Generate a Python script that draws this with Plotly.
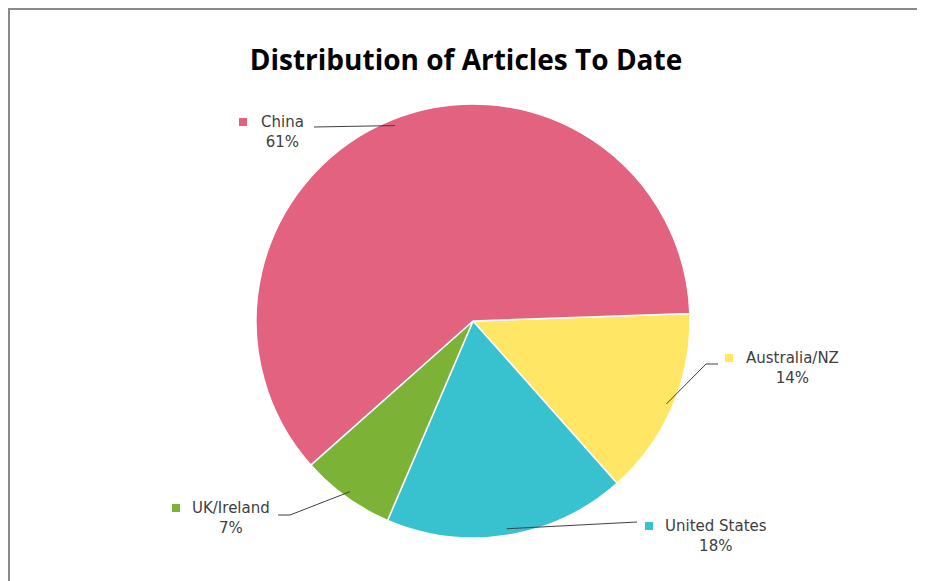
import math
import plotly.graph_objects as go

# the page body has an 8px margin, so the figure is drawn at (8, 8)
OFF = 8
W, H = 925 - OFF, 581 - OFF

# data
regions = ['Australia/NZ', 'United States', 'UK/Ireland', 'China']
articles = [14, 18, 7, 61]
colors = ['#FFE765', '#38C1CF', '#7CB236', '#E3627F']

# pie geometry (page pixels)
cx, cy, r = 473, 321, 217
rotation = 88

# label placement (page pixel centre of the two-line label) and leader start/elbow
label_pos = {
    'Australia/NZ': (792, 368),
    'United States': (716, 536),
    'UK/Ireland': (231, 518),
    'China': (282, 132),
}
leader = {
    'Australia/NZ': [(718, 364), (706, 364)],
    'United States': [(637, 522), (637, 522)],
    'UK/Ireland': [(278, 515), (290, 515)],
    'China': [(314, 127), (314, 127)],
}
square_x = {
    'Australia/NZ': 729,
    'United States': 649,
    'UK/Ireland': 176,
    'China': 243,
}


def px(x, y):
    return (x - OFF) / W, 1 - (y - OFF) / H


fig = go.Figure()
d0 = px(cx - r, cy + r)
d1 = px(cx + r, cy - r)
fig.add_trace(go.Pie(
    labels=regions,
    values=articles,
    sort=False,
    direction='clockwise',
    rotation=rotation,
    marker=dict(colors=colors, line=dict(color='white', width=1.5)),
    textinfo='none',
    showlegend=False,
    domain=dict(x=[d0[0], d1[0]], y=[d0[1], d1[1]]),
))

total = sum(articles)
shapes = []
annotations = []
start = rotation
for name, val, col in zip(regions, articles, colors):
    span = val / total * 360
    mid = math.radians(start + span / 2)
    start += span
    ax = cx + 0.97 * r * math.sin(mid)
    ay = cy - 0.97 * r * math.cos(mid)
    (sx, sy), (ex, ey) = leader[name]
    p0, p1, p2 = px(sx, sy), px(ex, ey), px(ax, ay)
    shapes.append(dict(
        type='path', xref='paper', yref='paper',
        path=f'M {p0[0]},{p0[1]} L {p1[0]},{p1[1]} L {p2[0]},{p2[1]}',
        line=dict(color='#404040', width=1),
    ))
    lx, ly = label_pos[name]
    x0, y0 = px(square_x[name] - 4, ly - 14)
    x1, y1 = px(square_x[name] + 4, ly - 6)
    shapes.append(dict(type='rect', xref='paper', yref='paper',
                       x0=x0, y0=y0, x1=x1, y1=y1,
                       fillcolor=col, line=dict(width=0)))
    tx, ty = px(lx, ly)
    annotations.append(dict(
        x=tx, y=ty, xref='paper', yref='paper',
        xanchor='center', yanchor='middle',
        text=f'{name}<br>{round(val / total * 100)}%',
        showarrow=False, align='center',
        font=dict(family='DejaVu Sans', size=15, color='#404040'),
    ))

# chart frame (only top and left edges are visible)
shapes.append(dict(type='rect', xref='paper', yref='paper',
                   x0=1 / W, y0=1 - 1 / H, x1=1.05, y1=-0.05,
                   line=dict(color='#8a8a8a', width=2)))

tx, ty = px(466, 60)
fig.update_layout(
    width=W, height=H,
    margin=dict(l=0, r=0, t=0, b=0),
    paper_bgcolor='white',
    title=dict(text='<b>Distribution of Articles To Date</b>',
               x=tx, xanchor='center', y=ty, yanchor='middle',
               font=dict(family='Open Sans, DejaVu Sans', size=28, color='black')),
    shapes=shapes,
    annotations=annotations,
)

fig.write_html('out.html')
